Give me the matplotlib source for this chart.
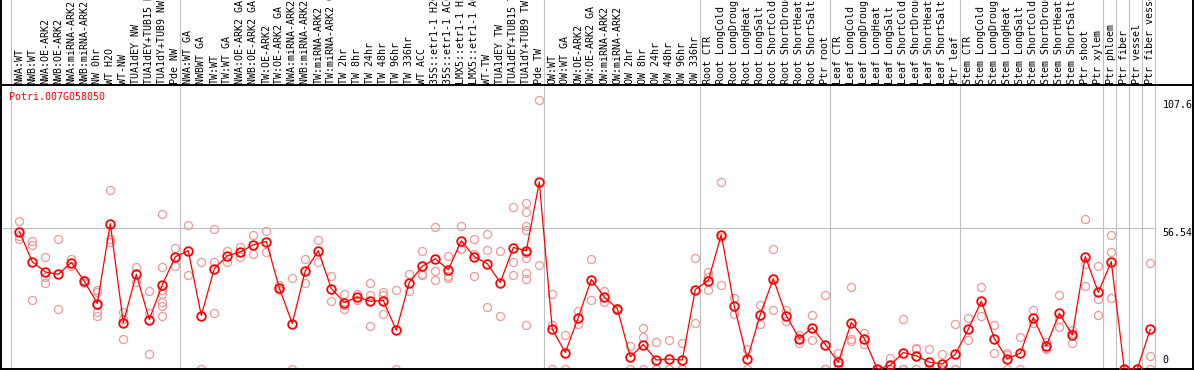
import numpy as np
import matplotlib
matplotlib.use("Agg")
import matplotlib.pyplot as plt

gene = "Potri.007G058050"

group_sizes = [13, 28, 12, 10, 10, 11, 1, 1, 1, 1]

samples = [
    "NWA:WT", "NWB:WT", "NWA:OE-ARK2", "NWB:OE-ARK2", "NWA:miRNA-ARK2",
    "NWB:miRNA-ARK2", "NW 0hr", "WT H2O", "WT-NW", "TUA1dEY NW",
    "TUA1dEY+TUB15 NW", "TUA1dY+TUB9 NW", "Pde NW",
    "NWA:WT GA", "NWBWT GA", "TW:WT", "TW:WT GA", "NWA:OE-ARK2 GA",
    "NWB:OE-ARK2 GA", "TW:OE-ARK2", "TW:OE-ARK2 GA", "NWA:miRNA-ARK2 GA",
    "NWB:miRNA-ARK2 GA", "TW:miRNA-ARK2", "TW:miRNA-ARK2 GA", "TW 2hr",
    "TW 8hr", "TW 24hr", "TW 48hr", "TW 96hr", "TW 336hr", "WT ACC",
    "35S::etr1-1 H2O", "35S::etr1-1 ACC", "LMX5::etr1-1 H2O",
    "LMX5::etr1-1 ACC", "WT-TW", "TUA1dEY TW", "TUA1dEY+TUB15 TW",
    "TUA1dY+TUB9 TW", "Pde TW",
    "OW:WT", "OW:WT GA", "OW:OE-ARK2", "OW:OE-ARK2 GA", "OW:miRNA-ARK2",
    "OW:miRNA-ARK2", "OW 2hr", "OW 8hr", "OW 24hr", "OW 48hr", "OW 96hr",
    "OW 336hr",
    "Root CTR", "Root LongCold", "Root LongDrought", "Root LongHeat",
    "Root LongSalt", "Root ShortCold", "Root ShortDrought", "Root ShortHeat",
    "Root ShortSalt", "Ptr root",
    "Leaf CTR", "Leaf LongCold", "Leaf LongDrought", "Leaf LongHeat",
    "Leaf LongSalt", "Leaf ShortCold", "Leaf ShortDrought", "Leaf ShortHeat",
    "Leaf ShortSalt", "Ptr leaf",
    "Stem CTR", "Stem LongCold", "Stem LongDrought", "Stem LongHeat",
    "Stem LongSalt", "Stem ShortCold", "Stem ShortDrought", "Stem ShortHeat",
    "Stem ShortSalt", "Ptr shoot", "Ptr xylem",
    "Ptr phloem", "Ptr fiber", "Ptr vessel", "Ptr fiber vessel",
]

means = [
    55.0, 42.9, 38.8, 37.9, 42.6, 35.1, 26.2, 58.1, 18.5, 37.9, 19.8, 33.7, 44.9,
    47.3, 21.4, 40.1, 45.3, 46.8, 49.7, 51.0, 32.4, 18.2, 39.3, 47.3, 32.2,
    26.6, 28.8, 27.1, 27.4, 15.5, 34.6, 41.1, 44.1, 39.7, 51.3, 44.9, 42.1,
    34.6, 48.6, 47.3, 74.8,
    15.9, 6.6, 20.6, 35.8, 28.8, 24.2, 4.9, 9.8, 3.6, 4.0, 3.6, 31.8,
    35.4, 53.7, 25.1, 4.0, 21.8, 36.1, 21.3, 12.2, 16.6, 9.8,
    2.7, 18.6, 12.2, 0.0, 1.5, 6.6, 5.3, 2.7, 2.0, 5.9,
    15.9, 27.1, 12.2, 4.1, 6.3, 20.6, 9.3, 22.3, 13.6, 45.0, 30.7,
    42.9, 0.0, 0.0, 15.9,
]

replicates = [
    [59.4, 53.1, 52.2], [51.4, 49.7, 27.5], [45.0, 37.0, 34.6], [52.1, 23.9],
    [44.0, 41.2], [35.5, 34.6], [31.5, 30.8, 25.5, 22.8, 21.3],
    [71.7, 52.1, 50.7], [22.8, 20.2, 12.2], [40.7, 34.8], [31.1, 22.4, 5.9],
    [62.0, 40.7, 31.5, 30.2, 26.8, 25.1, 21.4], [48.6, 41.1],
    [57.7, 37.5], [42.9, 0.0], [56.2, 42.9, 22.3], [47.4, 42.8], [49.0, 44.8],
    [53.8, 46.1], [55.4, 46.9], [33.7, 31.5], [36.5, 0.0], [44.1, 34.6],
    [51.7, 42.8], [37.3, 27.1], [30.2, 25.5, 24.2], [30.0, 27.6],
    [34.6, 29.5, 17.4], [30.8, 29.8, 21.9], [31.5, 0.0], [38.1, 31.1],
    [47.3, 38.1, 37.5], [56.9, 39.3, 35.7], [45.4, 37.1, 36.6],
    [57.4, 48.2, 48.2], [52.2, 46.1, 37.3], [54.1, 47.7, 25.0], [47.3, 21.4],
    [64.8, 42.9, 37.7],
    [66.6, 62.8, 57.4, 55.7, 44.5, 38.4, 36.1, 17.8, 46.5], [107.6, 41.8],
    [30.2, 17.8, 0.0], [13.8, 0.0], [23.1, 18.2], [44.1, 27.5], [31.1, 26.8],
    [24.6, 23.8], [9.4, 0.0], [16.6, 13.0, 0.0], [11.0, 0.0, 0.0],
    [11.8, 0.0, 0.0], [10.6, 0.0, 0.0], [44.5, 18.6],
    [38.8, 36.8, 31.5], [74.9, 52.7, 33.7], [28.6, 22.2], [8.0, 0.0],
    [25.5, 18.2], [48.1, 23.8], [23.5, 19.2], [13.6, 10.6], [21.6, 11.6],
    [29.8, 0.0, 0.0],
    [6.3, 1.8, 0.0], [33.0, 12.2, 11.3], [14.5, 10.0], [0.0, 0.0],
    [4.5, 0.0, 0.0], [20.2, 0.0, 0.0], [8.5, 7.9, 0.0], [8.2, 0.0, 0.0],
    [5.9, 0.0, 0.0], [18.2, 0.0, 0.0],
    [20.6, 11.8], [33.0, 21.2], [17.8, 6.6], [6.6, 5.6, 0.0], [13.0, 0.0],
    [23.5, 18.6], [11.0, 8.6, 7.9], [29.8, 20.0, 16.9], [15.5, 14.6, 10.6],
    [60.1, 42.1, 33.4], [41.4, 28.2, 21.8],
    [53.7, 46.9, 28.6], [0.0, 0.0], [0.0, 0.0], [42.5, 5.2, 0.0],
]

y_ticks = [0, 56.54, 107.6]

# pixel geometry of the original: 13 px per sample, 2.5 px per unit
W, H = 1194, 370
fig = plt.figure(figsize=(W / 100, H / 100), dpi=100)
ax = fig.add_axes([1.3 / W, 1 / H, 1191.7 / W, 369 / H])
x_lo = -18 / 13
ax.set_xlim(x_lo, x_lo + 1191.7 / 13)
ax.set_ylim(0, 369 / 2.5)

mono = "DejaVu Sans Mono"
fs = 7.2
x = np.arange(len(samples))

# group separators
starts = np.cumsum([0] + group_sizes[:-1])
bounds = list(starts - 0.66) + [len(samples) - 0.62]
for b in bounds:
    ax.axvline(b, color="#c0c0c0", lw=0.8, zorder=1)
ax.hlines(y_ticks[1], x_lo, bounds[-1], color="#c0c0c0", lw=0.8, zorder=1)

# header separator line
ax.axhline((369 - 85) / 2.5, color="black", lw=1.4, zorder=5)

# replicates
for i, reps in enumerate(replicates):
    ax.plot([i] * len(reps), reps, ls="none", marker="o", ms=5.8,
            mfc="none", mec="#ee9a9a", mew=0.9, zorder=2)

# means
ax.plot(x, means, color="red", lw=0.9, marker="o", ms=6.2, mfc="none",
        mec="red", mew=1.3, zorder=4)

# sample labels in header
for i, name in enumerate(samples):
    ax.text(i, (369 - 83.5) / 2.5, name, rotation=90, ha="center", va="bottom",
            family=mono, fontsize=fs, color="black", clip_on=False)

ax.text(-0.77, (369 - 97) / 2.5, gene, color="red", family=mono, fontsize=fs,
        ha="left", va="center")

# value labels at right
xr = (1162.5 - 19.3) / 13
ax.text(xr, y_ticks[2], "107.6", family=mono, fontsize=fs, ha="left", va="top")
ax.text(xr, y_ticks[1], "56.54", family=mono, fontsize=fs, ha="left", va="top")
ax.text(xr, 1.5, "0", family=mono, fontsize=fs, ha="left", va="bottom")

for s in ["left", "right", "bottom"]:
    ax.spines[s].set_linewidth(1.4)
ax.spines["top"].set_visible(False)
ax.set_xticks([])
ax.set_yticks([])

fig.savefig("out.png", dpi=100)
